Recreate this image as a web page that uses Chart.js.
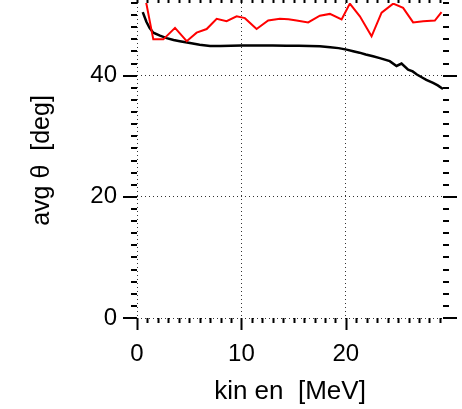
<!DOCTYPE html>
<html>
<head>
<meta charset="utf-8">
<script src="https://cdn.jsdelivr.net/npm/chart.js@4"></script>
<style>
  html, body { margin: 0; padding: 0; background: #fff; }
  canvas { display: block; }
</style>
</head>
<body>
<canvas id="avgChart" width="462" height="409"></canvas>
<script>
// ── data ──
var blackEnergy = [0.55, 0.9, 1.2, 1.56, 2.2, 2.84, 3.5, 4.1, 5.07, 6.0, 7.0, 8.0, 9.0, 10.0, 11.0, 12.0, 13.0, 14.3, 15.5,
    16.5, 17.5, 18.5, 19.3, 20.07, 20.7, 21.3, 21.9, 22.6, 23.25, 24.2, 24.85, 25.33, 25.96, 26.4, 26.8, 27.3, 27.7, 28.35, 28.8, 29.3];
var blackTheta = [50.5, 48.9, 47.9, 47.1, 46.6, 46.2, 45.9, 45.7, 45.4, 45.1, 44.9, 44.9, 44.95, 45.0, 45.0, 45.0, 45.0, 44.95, 44.95,
    44.9, 44.85, 44.7, 44.55, 44.3, 44.05, 43.8, 43.5, 43.2, 42.9, 42.4, 41.6, 42.0, 41.0, 40.7, 40.2, 39.7, 39.3, 38.8, 38.4, 37.8];

var redEnergy = [0.55, 1.56, 2.52, 3.64, 4.76, 5.71, 6.67, 7.63, 8.58, 9.54, 10.33, 11.45, 12.56, 13.68, 14.5, 15.28, 16.39,
    17.51, 18.47, 19.59, 20.38, 21.34, 22.46, 23.42, 24.53, 25.48, 26.44, 27.4, 28.52, 29.16];
var redTheta = [55.0, 46.0, 46.0, 47.9, 45.7, 47.1, 47.7, 49.4, 49.0, 49.8, 49.5, 47.7, 49.1, 49.4, 49.3, 49.1, 48.8,
    49.9, 50.2, 49.3, 51.9, 49.8, 46.5, 50.4, 51.9, 51.2, 48.8, 49.0, 49.1, 50.5];

var xTickLabels = [0, 10, 20];
var yTickLabels = [0, 20, 40];

function toPoints(xs, ys) {
    return xs.map(function(x, i) { return { x: x, y: ys[i] }; });
}

// ── tick marks on all four sides (major + minor) ──
var tickMarks = {
    id: 'tickMarks',
    afterDraw: function(chart) {
        var ctx = chart.ctx, a = chart.chartArea;
        var xs = chart.scales.x, ys = chart.scales.y;
        ctx.save();
        ctx.strokeStyle = '#000';
        ctx.lineWidth = 2;
        ctx.beginPath();
        for (var v = 0; v <= 29; v++) {
            var px = Math.round(xs.getPixelForValue(v)) + 0.5;
            var len = v % 10 === 0 ? 12 : 5;
            ctx.moveTo(px, a.bottom); ctx.lineTo(px, a.bottom + len);
            ctx.moveTo(px, a.top); ctx.lineTo(px, a.top - len);
        }
        for (var w = 0; w <= 52; w += 2) {
            var py = Math.round(ys.getPixelForValue(w));
            var l = w % 20 === 0 ? 14 : 6;
            ctx.moveTo(a.left, py); ctx.lineTo(a.left - l, py);
            ctx.moveTo(a.right, py); ctx.lineTo(a.right + l, py);
        }
        ctx.stroke();
        ctx.restore();
    }
};

function noPad(s) {
    s.paddingTop = 0; s.paddingBottom = 0; s.paddingLeft = 0; s.paddingRight = 0;
}

Chart.defaults.font.family = '"Liberation Sans", Arial, sans-serif';
Chart.defaults.color = '#000';

new Chart(document.getElementById('avgChart').getContext('2d'), {
    type: 'line',
    data: {
        datasets: [{
            data: toPoints(redEnergy, redTheta),
            borderColor: '#ff0000',
            borderWidth: 2,
            pointRadius: 0,
            tension: 0
        }, {
            data: toPoints(blackEnergy, blackTheta),
            borderColor: '#000',
            borderWidth: 2.5,
            pointRadius: 0,
            tension: 0
        }]
    },
    options: {
        responsive: false,
        animation: false,
        layout: { padding: { top: 3, right: 19, left: 0, bottom: 0 } },
        plugins: { legend: { display: false }, tooltip: { enabled: false } },
        scales: {
            x: {
                type: 'linear',
                min: 0,
                max: 29.3,
                afterFit: function(s) { s.height = 91; noPad(s); },
                afterBuildTicks: function(s) { s.ticks = xTickLabels.map(function(v) { return { value: v }; }); },
                border: { display: false, dash: [1, 3] },
                grid: { color: '#333', lineWidth: 1, drawTicks: false },
                ticks: { padding: 22, font: { size: 24 }, color: '#000' },
                title: { display: true, text: 'kin en  [MeV]', font: { size: 26 }, color: '#000', padding: { top: 0, bottom: 2 } }
            },
            y: {
                min: 0,
                max: 52,
                afterFit: function(s) { s.width = 137; noPad(s); },
                afterBuildTicks: function(s) { s.ticks = yTickLabels.map(function(v) { return { value: v }; }); },
                border: { display: false, dash: [1, 3] },
                grid: { color: '#333', lineWidth: 1, drawTicks: false },
                ticks: { padding: 20, font: { size: 24 }, color: '#000' },
                title: { display: true, text: 'avg θ  [deg]', font: { size: 25 }, color: '#000', padding: { top: 27, bottom: 0 } }
            }
        }
    },
    plugins: [tickMarks]
});
</script>
</body>
</html>
